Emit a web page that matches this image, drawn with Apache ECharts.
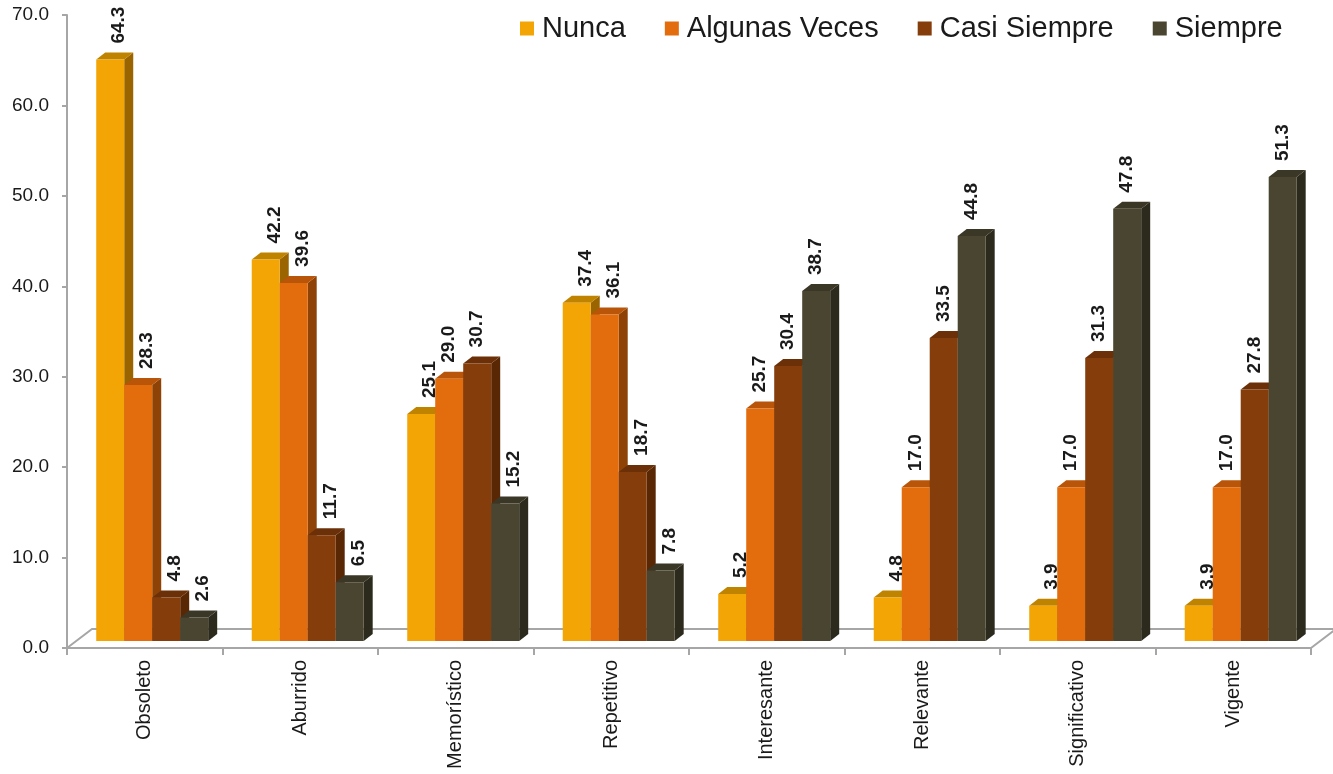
<!DOCTYPE html>
<html>
<head>
<meta charset="utf-8">
<script src="https://cdn.jsdelivr.net/npm/echarts@6/dist/echarts.min.js"></script>
<style>
html,body{margin:0;padding:0;background:#fff;}
#chart{width:1333px;height:774px;}
</style>
</head>
<body>
<div id="chart"></div>
<script>
const categories = ['Obsoleto','Aburrido','Memorístico','Repetitivo','Interesante','Relevante','Significativo','Vigente'];
const seriesNames = ['Nunca','Algunas Veces','Casi Siempre','Siempre'];
const nunca = [64.3, 42.2, 25.1, 37.4, 5.2, 4.8, 3.9, 3.9];
const algunasVeces = [28.3, 39.6, 29.0, 36.1, 25.7, 17.0, 17.0, 17.0];
const casiSiempre = [4.8, 11.7, 30.7, 18.7, 30.4, 33.5, 31.3, 27.8];
const siempre = [2.6, 6.5, 15.2, 7.8, 38.7, 44.8, 47.8, 51.3];
const yTicks = [0, 10, 20, 30, 40, 50, 60, 70];

const seriesValues = [nunca, algunasVeces, casiSiempre, siempre];
const frontColors = ['#F2A505', '#E36C0C', '#843D0B', '#4A4530'];
const topColors = ['#C08300', '#B85508', '#6B3008', '#3B3726'];
const sideColors = ['#9A6400', '#8F4206', '#5A2705', '#2C2A1C'];

const FONT = 'Liberation Sans, Arial, sans-serif';
const DX = 9, DY = 7, LIFT = 7;

function makeRender(si) {
  return function (params, api) {
    const ci = api.value(0), v = api.value(1);
    const top = api.coord([ci, v]);
    const base = api.coord([ci, 0]);
    const bandW = api.size([1, 0])[0];
    const w = bandW * 0.18;
    const x0 = top[0] - 2 * w + bandW * 0.048 + si * w;
    const x1 = x0 + w;
    const yT = top[1] - LIFT;
    const yB = base[1] - LIFT;
    const prev = si > 0 ? seriesValues[si - 1][ci] : Infinity;
    const lblShift = v < prev ? 9 : 0;
    return {
      type: 'group',
      children: [
        { type: 'polygon', shape: { points: [[x1, yT], [x1 + DX, yT - DY], [x1 + DX, yB - DY], [x1, yB]] },
          style: { fill: sideColors[si] } },
        { type: 'polygon', shape: { points: [[x0, yT], [x0 + DX, yT - DY], [x1 + DX, yT - DY], [x1, yT]] },
          style: { fill: topColors[si] } },
        { type: 'rect', shape: { x: x0, y: yT, width: w, height: yB - yT },
          style: { fill: frontColors[si] } },
        { type: 'text', z2: 100, x: x0 + w / 2 + lblShift, y: yT - 16, rotation: Math.PI / 2,
          style: { text: v.toFixed(1), fill: '#1a1a1a', font: 'bold 19px ' + FONT, align: 'left', verticalAlign: 'middle' } }
      ]
    };
  };
}

const chart = echarts.init(document.getElementById('chart'), null, { renderer: 'canvas' });
const option = {
  backgroundColor: '#fff',
  animation: false,
  textStyle: { fontFamily: FONT },
  legend: {
    data: seriesNames,
    left: 515, top: 9,
    icon: 'rect', itemWidth: 14, itemHeight: 14, itemGap: 39,
    textStyle: { fontSize: 29, color: '#1a1a1a', fontFamily: FONT, padding: [0, 0, 0, 3] }
  },
  grid: { left: 67, right: 22, top: 15, bottom: 126 },
  xAxis: {
    type: 'category',
    data: categories,
    axisLine: { lineStyle: { color: '#A6A6A6', width: 2 } },
    axisTick: { show: true, length: 7, lineStyle: { color: '#A6A6A6', width: 2 } },
    axisLabel: { rotate: 90, fontSize: 20, color: '#1a1a1a', margin: 12, fontFamily: FONT }
  },
  yAxis: {
    type: 'value', min: yTicks[0], max: yTicks[yTicks.length - 1], interval: 10,
    axisLine: { show: true, lineStyle: { color: '#A6A6A6', width: 2 } },
    axisTick: { show: true, length: 5, lineStyle: { color: '#A6A6A6', width: 2 } },
    splitLine: { show: false },
    axisLabel: { fontSize: 19, color: '#1a1a1a', margin: 18, formatter: v => v.toFixed(1), fontFamily: FONT }
  },
  series: seriesValues.map((vals, si) => ({
    type: 'custom',
    name: seriesNames[si],
    itemStyle: { color: frontColors[si] },
    renderItem: makeRender(si),
    encode: { x: 0, y: 1 },
    data: vals.map((v, i) => [i, v]),
    z: 2
  }))
};
chart.setOption(option);

// floor decoration computed from grid coordinates
const p0 = chart.convertToPixel({ xAxisIndex: 0, yAxisIndex: 0 }, [0, 0]);
const bandW = chart.convertToPixel({ xAxisIndex: 0 }, 1) - chart.convertToPixel({ xAxisIndex: 0 }, 0);
const leftX = p0[0] - bandW / 2;
const rightX = chart.convertToPixel({ xAxisIndex: 0 }, categories.length - 1) + bandW / 2;
const y0 = p0[1];
const fdx = 25, fdy = 19;
chart.setOption({
  graphic: [{
    type: 'polyline', z: 1,
    shape: { points: [[leftX, y0], [leftX + fdx, y0 - fdy], [rightX + fdx, y0 - fdy], [rightX, y0]] },
    style: { stroke: '#A6A6A6', lineWidth: 2, fill: null }
  }]
});
</script>
</body>
</html>
